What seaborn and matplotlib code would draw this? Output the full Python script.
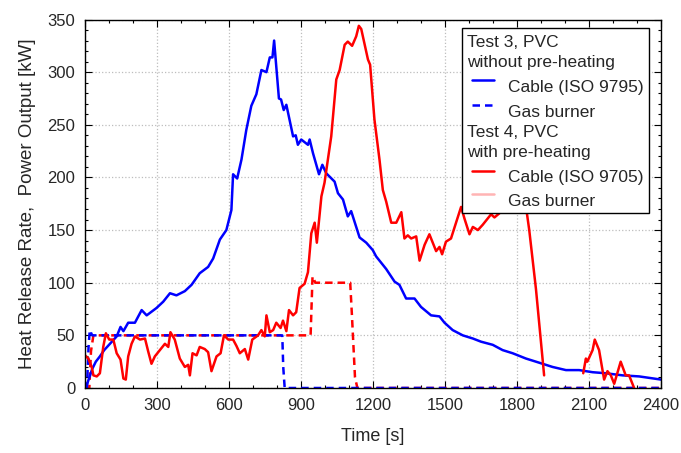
import matplotlib
matplotlib.use("Agg")
import matplotlib.pyplot as plt
from matplotlib.lines import Line2D
from matplotlib.patches import Rectangle
from matplotlib.ticker import MultipleLocator
import seaborn as sns
import pandas as pd

# Test 3, cable heat release rate (solid blue)
blue_cable_t = [0, 5, 15, 30, 45, 62, 80, 104, 132, 148,
                160, 180, 208, 236, 257, 298, 326, 354, 381, 416,
                444, 478, 513, 534, 562, 589, 610, 617, 634, 652,
                672, 693, 714, 735, 756, 770, 781, 788, 808, 817,
                828, 839, 867, 878, 887, 901, 929, 936, 950, 975,
                989, 1005, 1040, 1054, 1075, 1095, 1109, 1144, 1172, 1199,
                1213, 1255, 1290, 1310, 1338, 1373, 1400, 1442, 1477, 1498,
                1532, 1574, 1616, 1650, 1699, 1740, 1782, 1837, 1879, 1948,
                2004, 2059, 2115, 2170, 2240, 2309, 2400]
blue_cable_kw = [0, 1, 8, 18, 25, 30, 36, 42, 49, 58,
                 54, 62, 62, 74, 69, 76, 82, 90, 88, 92,
                 98, 109, 115, 123, 141, 150, 169, 203, 199, 217,
                 245, 268, 279, 302, 300, 314, 314, 330, 275, 274,
                 264, 269, 239, 240, 231, 236, 231, 236, 223, 203,
                 212, 204, 196, 185, 179, 163, 168, 143, 138, 131,
                 125, 113, 101, 98, 85, 85, 77, 69, 68, 62,
                 55, 50, 47, 44, 41, 36, 33, 28, 25, 20,
                 17, 17, 15, 14, 12, 11, 8]

# Test 3, gas burner output (dashed blue)
blue_gas_t = [0, 8, 15, 20, 30, 822, 826, 832, 2400]
blue_gas_kw = [0, 0, 40, 55, 50, 50, 20, 0, 0]

# Test 4, cable heat release rate (solid red), main part and late flare-up
red_cable_t = [0, 14, 28, 35, 49, 62, 76, 87, 101, 118,
               132, 148, 160, 170, 180, 194, 208, 229, 250, 263,
               277, 291, 312, 333, 347, 356, 374, 395, 416, 430,
               437, 448, 465, 478, 499, 513, 527, 548, 565, 579,
               597, 617, 631, 645, 666, 680, 697, 721, 735, 749,
               756, 770, 784, 797, 815, 825, 839, 850, 867, 880,
               894, 915, 929, 943, 957, 966, 985, 998, 1012, 1026,
               1047, 1061, 1082, 1095, 1113, 1130, 1141, 1151, 1179, 1188,
               1206, 1227, 1241, 1255, 1276, 1297, 1318, 1331, 1345, 1359,
               1380, 1394, 1415, 1435, 1463, 1477, 1488, 1504, 1525, 1546,
               1567, 1581, 1602, 1616, 1637, 1657, 1678, 1692, 1706, 1727,
               1750, 1775, 1800, 1820, 1840, 1851, 1879, 1913]
red_cable_kw = [31, 28, 20, 12, 11, 14, 39, 52, 46, 46,
                33, 27, 9, 8, 30, 42, 49, 46, 47, 35,
                23, 30, 36, 42, 39, 53, 46, 28, 20, 22,
                12, 33, 31, 39, 37, 34, 16, 30, 33, 50,
                46, 46, 40, 33, 37, 27, 46, 50, 55, 49,
                69, 53, 55, 62, 57, 64, 54, 74, 69, 72,
                95, 99, 110, 147, 157, 138, 182, 195, 217, 239,
                293, 302, 326, 329, 325, 334, 344, 341, 312, 307,
                255, 217, 188, 177, 157, 157, 167, 142, 145, 142,
                144, 121, 136, 146, 130, 134, 127, 139, 142, 157,
                172, 161, 146, 153, 150, 155, 161, 165, 162, 166,
                178, 185, 180, 175, 168, 150, 94, 12]
red_tail_t = [2076, 2087, 2093, 2115, 2124, 2142, 2163, 2177, 2191, 2205,
              2232, 2253, 2267, 2288]
red_tail_kw = [14, 28, 25, 36, 46, 36, 8, 16, 12, 4,
               25, 12, 12, 0]

# Test 4, gas burner output (dashed red)
red_gas_t = [0, 18, 25, 35, 940, 948, 960, 1105, 1112, 1125, 1135, 2400]
red_gas_kw = [0, 0, 35, 50, 50, 106, 100, 100, 70, 10, 0, 0]

x_ticks = [0, 300, 600, 900, 1200, 1500, 1800, 2100, 2400]
y_ticks = [0, 50, 100, 150, 200, 250, 300, 350]

BLUE = "#0000ff"
RED = "#ff0000"
PINK = "#ffb4b4"

sns.set_style("ticks")
plt.rcParams["font.family"] = ["Liberation Sans", "DejaVu Sans"]

W, H = 681, 453
fig = plt.figure(figsize=(W / 100, H / 100), dpi=100)
ax = fig.add_axes([85 / W, 1 - 388 / H, (661 - 85) / W, (388 - 19.5) / H])

dash = (3, 2)
series = [
    (red_gas_t, red_gas_kw, RED, True),
    (blue_gas_t, blue_gas_kw, BLUE, True),
    (blue_cable_t, blue_cable_kw, BLUE, False),
    (red_cable_t, red_cable_kw, RED, False),
    (red_tail_t, red_tail_kw, RED, False),
]
for t, kw, col, dashed in series:
    df = pd.DataFrame({"t": t, "kw": kw})
    sns.lineplot(data=df, x="t", y="kw", ax=ax, color=col, lw=1.8,
                 estimator=None, sort=False)
    if dashed:
        ax.lines[-1].set_linestyle((0, dash))

ax.set_xlim(0, 2400)
ax.set_ylim(0, 350)
ax.set_xticks(x_ticks)
ax.set_yticks(y_ticks)
ax.xaxis.set_minor_locator(MultipleLocator(100))
ax.yaxis.set_minor_locator(MultipleLocator(10))
ax.tick_params(which="both", direction="in", top=True, right=True,
               color="black", width=0.8)
ax.tick_params(which="major", length=5, labelsize=12, pad=7)
ax.tick_params(which="minor", length=2.5)
ax.grid(True, which="major", color="#bdbdbd", ls=":", lw=0.9)
for s in ax.spines.values():
    s.set_color("black")
    s.set_linewidth(1.0)

ax.set_xlabel("Time [s]", fontsize=13, labelpad=11)
ax.set_ylabel("Heat Release Rate,  Power Output [kW]", fontsize=13.5, labelpad=8)


# legend drawn by hand so the group headers sit flush left
def fx(px):
    return px / W


def fy(py):
    return 1 - py / H


fig.add_artist(Rectangle((fx(462), fy(213)), fx(649 - 462), (213 - 28) / H,
                         transform=fig.transFigure, facecolor="white",
                         edgecolor="black", lw=1.0, zorder=5))
headers = [("Test 3, PVC", 46.7), ("without pre-heating", 66.7),
           ("Test 4, PVC", 136.7), ("with pre-heating", 156.7)]
for txt, py in headers:
    fig.text(fx(467), fy(py), txt, fontsize=12.5, va="baseline", zorder=6)
entries = [("Cable (ISO 9795)", 91.7, 80, BLUE, "-"),
           ("Gas burner", 116.7, 105, BLUE, (0, (3, 2))),
           ("Cable (ISO 9705)", 181.7, 170.7, RED, "-"),
           ("Gas burner", 206, 194, PINK, "-")]
for txt, py, hy, col, ls in entries:
    fig.add_artist(Line2D([fx(472), fx(494)], [fy(hy), fy(hy)],
                          transform=fig.transFigure, color=col, lw=1.8,
                          ls=ls, zorder=6))
    fig.text(fx(508), fy(py), txt, fontsize=12.5, va="baseline", zorder=6)

fig.savefig("out.png", dpi=100)
